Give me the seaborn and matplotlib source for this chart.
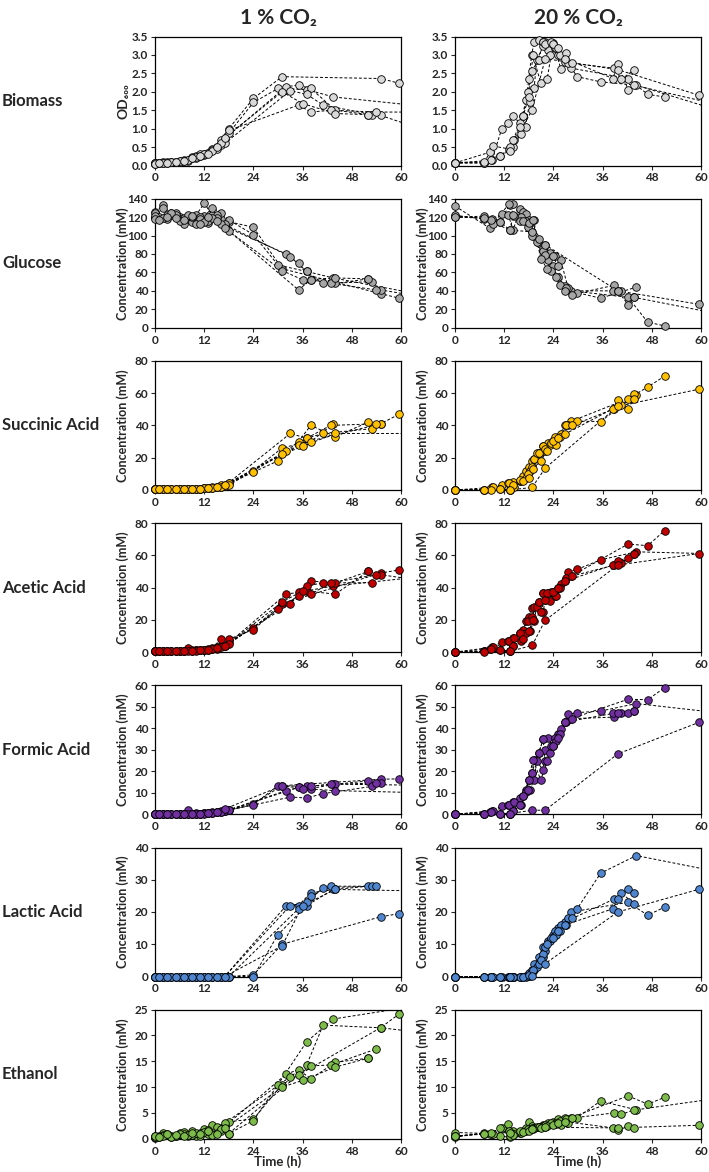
import numpy as np
import pandas as pd
import matplotlib
matplotlib.use('Agg')
import matplotlib.pyplot as plt
import seaborn as sns

nan = np.nan

# sampling times per replicate, 1 % CO2
t_lo_1 = [0, 2, 4, 6, 8, 10, 12, 14, 16, 18, 24, 31, 55, 59.6]
t_lo_2 = [0, 2, 4, 6, 8, 10, 12, 14, 16, 18, 24, 30, 37, 43.5, 66]
t_lo_3 = [0, 1, 3, 5, 7, 9, 11, 13, 15, 17, 32, 35, 38, 44, 52, 66]
t_lo_4 = [0, 1, 3, 5, 7, 9, 11, 13, 15, 17, 33, 37, 41, 53, 55, 66]
t_lo_5 = [0, 2, 4, 6, 8, 10, 12, 14, 16, 18, 35, 38, 43, 54, 66]
t_lo_6 = [0, 1, 3, 5, 7, 9, 11, 13, 15, 17, 31, 36, 44, 52, 66]

# sampling times per replicate, 20 % CO2
t_hi_1 = [0, 9, 11.4, 13, 14.2, 15.8, 16.6, 17.4, 18, 18.7, 19.3, 20.4, 21.5, 22.7, 23.8, 25.1, 26.8, 28.4, 42.2, 47, 51.1]
t_hi_2 = [0, 8.5, 11, 13.3, 14.2, 16, 17.2, 18.2, 19.3, 19.9, 21.5, 22, 23.1, 24.3, 25.8, 27.6, 29.8, 35.5, 44.2, 70]
t_hi_3 = [0, 7.1, 9.3, 13.1, 14.5, 15.8, 17.8, 18.7, 20.4, 21.5, 22, 23.4, 24.7, 25.5, 27, 28.6, 38.8, 40.6, 43.6]
t_hi_4 = [0, 7.1, 8.9, 11, 13.4, 14.2, 16.6, 18, 19, 20.9, 22.5, 23.9, 25, 26.9, 38.5, 39.7, 42.2, 43.6, 70]
t_hi_5 = [0, 7.1, 13.3, 18.8, 22, 39.7, 59.4]

times_lo = [t_lo_1, t_lo_2, t_lo_3, t_lo_4, t_lo_5, t_lo_6]
times_hi = [t_hi_1, t_hi_2, t_hi_3, t_hi_4, t_hi_5]

# ---- 1 % CO2 ----
biomass_lo = [
    [0.07, 0.10, 0.10, 0.12, 0.15, 0.25, 0.30, 0.45, 0.70, 1.00, 1.82, 2.41, 2.36, 2.23],
    [0.05, 0.08, 0.09, 0.10, 0.13, 0.20, 0.28, 0.42, 0.55, 0.88, 1.71, 2.09, 2.06, 1.86, 1.60],
    [0.07, 0.08, 0.10, 0.10, 0.14, 0.22, 0.30, 0.35, 0.50, 0.73, 2.14, 2.18, 2.09, 1.50, 1.38, nan],
    [0.06, 0.07, 0.08, 0.10, 0.12, 0.20, 0.27, 0.33, 0.45, 0.60, 2.03, 1.93, 1.64, 1.38, 1.36, 0.95],
    [0.06, 0.08, 0.10, 0.12, 0.15, 0.24, 0.30, 0.40, 0.60, 0.95, 1.64, 1.45, 1.50, 1.45, 1.45],
    [0.05, 0.06, 0.08, 0.10, 0.12, 0.20, 0.25, 0.30, 0.50, 0.75, 2.00, 1.68, 1.41, 1.38, nan],
]
glucose_lo = [
    [126, 133, 122, 120, 118, 122, 135, 122, 118, 115, 109, 64, 37, 32],
    [119, 130, 125, 118, 120, 117, 121, 130, 125, 117, 101, 68, 61, 54, 35],
    [120, 118, 122, 125, 119, 115, 120, 114, 122, 110, 80, 70, 52, 48, 53, nan],
    [124, 120, 118, 122, 112, 120, 118, 116, 119, 112, 77, 61, 48, 50, 41, 33],
    [121, 119, 124, 116, 122, 113, 115, 119, 113, 105, 41, 52, 48, 41, nan],
    [118, 117, 120, 119, 117, 121, 113, 120, 116, 108, 62, 52, 54, 53, nan],
]
succinic_lo = [
    [0.5, 0.5, 0.5, 0.5, 0.5, 0.5, 1, 1, 2, 4, 12, 26, 41, 47],
    [0.5, 0.5, 0.5, 0.5, 0.5, 0.8, 1, 1.5, 3, 4, 11, 18, 32, 41, nan],
    [0.5, 0.5, 0.5, 0.5, 0.5, 0.5, 0.8, 1, 1.5, 3, 24, 30, 40, 33, 42, nan],
    [0.3, 0.3, 0.5, 0.5, 0.5, 0.5, 0.8, 1, 1.5, 2.5, 35, 32, 35, 38, 41, nan],
    [0.5, 0.5, 0.5, 0.5, 0.5, 0.5, 1, 1.2, 2, 3, 28, 30, 40, 41, nan],
    [0.3, 0.3, 0.5, 0.5, 0.5, 0.5, 0.8, 1, 1.5, 3, 22, 27, 35, nan, 35],
]
acetic_lo = [
    [0.5, 0.5, 0.5, 0.8, 1, 1, 1.5, 2, 4, 6, 15, 30, 49, 51],
    [0.5, 0.5, 0.5, 0.5, 2.5, 1, 1.5, 2.5, 8, 8, 14, 27, 38, 41, 47],
    [0.5, 0.5, 0.5, 0.5, 0.5, 0.5, 1, 1.5, 2, 3.6, 36, 37, 44, 43, 50, nan],
    [0.5, 0.5, 0.5, 0.5, 0.5, 1, 1, 2, 3, 4, 30, 41, 43, 43, 48, 44],
    [0.5, 0.5, 0.5, 0.5, 0.5, 0.5, 1, 2, 3, 5, 35, 36, 43, 48, nan],
    [0.5, 0.5, 0.5, 0.5, 0.5, 0.5, 1, 1.5, 2.5, 3.5, 31, 38, 36, 50, nan],
]
formic_lo = [
    [0, 0, 0, 0, 0, 0, 0.5, 0.5, 1, 2, 5, 13.3, 16.3, 16.5],
    [0, 0, 0, 0, 2, 0.5, 0.5, 1, 1.5, 2, 4.5, 13.3, 13, 14, 13.5],
    [0, 0, 0, 0, 0, 0, 0.3, 0.5, 1, 1.5, 11, 12.5, 12, 14, 15.5, nan],
    [0, 0, 0, 0, 0, 0, 0.3, 0.5, 1, 1.5, 8, 7.6, 9.6, 13, 14.5, nan],
    [0, 0, 0, 0, 0, 0, 0.3, 0.5, 1, 2, 12.5, 13, 14, 14.5, nan],
    [0, 0, 0, 0, 0, 0, 0.3, 0.5, 1, 2.5, 13.3, 12, 11, nan, 10],
]
lactic_lo = [
    [0, 0, 0, 0, 0, 0, 0, 0, 0, 0, 0.5, 10, 18.5, 19.5],
    [0, 0, 0, 0, 0, 0, 0, 0, 0, 0, 0, 13, 22, 27, 26.5],
    [0, 0, 0, 0, 0, 0, 0, 0, 0, 0, 22, 22, 26, 27, 28, nan],
    [0, 0, 0, 0, 0, 0, 0, 0, 0, 0, 22, 23, 27.5, 28, nan, nan],
    [0, 0, 0, 0, 0, 0, 0, 0, 0, 0, 21, 25, 28, 28, nan],
    [0, 0, 0, 0, 0, 0, 0, 0, 0, 0, 9.5, 22, 27, nan, nan],
]
ethanol_lo = [
    [0.3, 1.2, 0.5, 1.0, 0.5, 1.0, 1.5, 2.7, 2.0, 3.3, 3.8, 10.5, 21.5, 24.2],
    [0.5, 0.8, 0.3, 1.2, 0.8, 0.5, 1.8, 1.0, 1.5, 1.0, 3.5, 10.5, 18.8, 23.2, 26.0],
    [0.2, 0.5, 1.0, 0.6, 1.3, 0.8, 1.2, 0.9, 2.2, 2.4, 12.5, 13.4, 11.6, 14.8, 15.6, nan],
    [0.4, 0.3, 0.8, 0.5, 1.0, 1.4, 0.6, 1.6, 1.2, 3.0, 12.0, 14.3, 22.0, nan, 21.5, 20.5],
    [0.3, 0.6, 0.4, 0.9, 0.7, 1.1, 1.3, 0.8, 1.8, 1.0, 12.4, 14.1, 14.3, 17.4, nan],
    [0.5, 0.4, 1.0, 0.8, 0.6, 1.2, 0.9, 1.4, 1.0, 2.0, 10.0, 11.3, 13.9, 15.6, nan],
]

# ---- 20 % CO2 ----
biomass_hi = [
    [0.07, 0.14, 1.0, 1.14, 1.34, 1.15, 1.34, 1.77, 2.36, 3.0, 3.36, 3.4, 3.36, 3.14, 3.32, 3.0, 2.82, 2.64, 2.36, 1.93, 1.86],
    [0.07, 0.36, 0.25, 0.41, 0.5, 0.86, 1.05, 1.73, 2.09, 2.86, 3.23, 3.36, 3.0, 3.18, 2.63, 2.77, 2.41, 2.27, 2.18, 1.3],
    [0.07, 0.07, 0.53, 0.45, 0.7, 1.05, 2.0, 2.56, 2.86, 3.36, 3.3, 3.36, 3.2, 3.0, 3.06, 2.77, 2.64, 2.34, 2.59],
    [0.07, 0.07, 0.14, 0.25, 0.5, 0.7, 1.34, 1.86, 3.0, 2.24, 2.36, 3.3, 3.2, 2.9, 2.36, 2.75, 2.06, 2.18, 1.5],
    [0.07, 0.1, 0.4, 1.5, 2.9, 2.6, 1.91],
]
glucose_hi = [
    [121, 118, 123, 122, 106, 129, 126, 123, 117, 104, 100, 92, 83, 74, 67, 55, 45, 40, 33, 6, 2],
    [132, 108, 115, 133, 134, 120, 116, 114, 117, 93, 87, 90, 81, 78, 73, 43, 38, 32, 44, nan],
    [120, 121, 113, 134, 121, 116, 109, 100, 96, 83, 79, 61, 55, 46, 43, 36, 46, 40, 33],
    [122, 118, 117, 115, 106, 122, 116, 114, 117, 75, 64, 78, 67, 40, 40, 40, 25, 33, 10],
    [120, 119, 106, 104, 90, 40, 25.5],
]
succinic_hi = [
    [0, 1.5, 3, 4, 5, 5.6, 8.7, 11.9, 14.3, 18, 19, 23, 27, 29, 30.5, 32.6, 40, 42.6, 56.5, 63.8, 70.5],
    [0, 0.4, 0.4, 0, 1.5, 5.6, 7.3, 12, 19, 23, 24, 24.3, 27.6, 32.6, 34.7, 40.3, 42.6, 42.4, 59, nan],
    [0, 0, 1.5, 4, 2, 6, 10, 14.3, 23, 27, 25.6, 29, 27.6, 33, 40, 40, 50.3, 52.4, 59.7],
    [0, 0, 0, 0.4, 0, 3, 5.6, 7.3, 13, 18, 24.3, 30.5, 32, 34.7, 50.3, 55.5, 50.3, 56.5, nan],
    [0, 0, 0, 1.5, 13.5, 51.8, 62.4],
]
acetic_hi = [
    [0, 3, 6.2, 6.6, 8.7, 11.8, 13.9, 19, 22, 27.4, 28, 31, 36.4, 36.8, 37.2, 39.9, 44, 47.2, 67, 66, 75.3],
    [0, 2, 1.5, 0.4, 3.5, 6.6, 11.8, 12.9, 19, 28, 24.7, 32.6, 31.6, 34.7, 42, 49.7, 51.3, 57.2, 62.2, 60.5],
    [0, 0.5, 3, 6.6, 8.7, 11.8, 19, 22, 31, 36.4, 32.6, 37.2, 34.7, 39.9, 46, 47.2, 53.9, 55.5, 60.7],
    [0, 0.5, 2, 1.5, 0.4, 3.5, 8, 12.9, 19.7, 24.7, 36.8, 37.2, 39.9, 44, 54, 56.6, 58.6, 60.7, nan],
    [0, 0.3, 0.4, 4.1, 19.7, 54, 61.1],
]
formic_hi = [
    [0, 1.6, 3.9, 4.2, 5.8, 7.5, 8.6, 11.3, 16, 19.2, 25.4, 28.5, 34.8, 35.3, 31.7, 37.5, 42.9, 44.5, 53.5, 53.3, 58.9],
    [0, 1.3, 0.3, 0.3, 1.6, 4.2, 10.2, 11.3, 16, 24.6, 20.7, 29.8, 28.5, 35.5, 39.7, 46.5, 47.3, 48, 51.5, 46],
    [0, 0.3, 1.6, 4.2, 5.8, 4.2, 11.3, 19.2, 28.5, 34.8, 24.6, 31.7, 34, 37.5, 42.9, 44.5, 45.2, 46.9, 48.2],
    [0, 0.3, 1.3, 0.3, 0.3, 1.6, 8.6, 16, 25.4, 16, 24.6, 31.7, 35.5, 42.9, 46.9, 46.9, 46.9, 48.2, nan],
    [0, 0.3, 0.3, 1.9, 1.9, 28.1, 42.7],
]
lactic_hi = [
    [0, 0, 0, 0, 0, 0, 0, 0.3, 1, 2, 4, 6, 9, 11, 13, 15, 17, 20, 23, 19, 21.5],
    [0, 0, 0, 0, 0, 0, 0, 0.3, 2, 3, 6, 8, 11, 14, 16, 18, 21, 32, 37.5, 31],
    [0, 0, 0, 0, 0, 0, 0.3, 1, 4, 7, 9, 12, 13, 14, 16, 18, 24, 26, 22.5],
    [0, 0, 0, 0, 0, 0, 0, 0.5, 2, 5, 10, 12, 14, 16, 21, 24, 27, 26, nan],
    [0, 0, 0, 0.3, 4, 20, 27],
]
ethanol_hi = [
    [0.5, 1, 2.1, 2.8, 1.5, 1.2, 1.5, 2, 3.3, 2.5, 2, 2.3, 2.6, 3, 3.2, 3.8, 4, 4.1, 8.3, 6.7, 8],
    [1.2, 1, 0.5, 0.3, 1, 1.2, 1.5, 1.8, 2, 2.2, 2.5, 2.2, 2.8, 3, 2.7, 3, 4.1, 7.3, 5.6, 8.5],
    [0.3, 1.1, 1, 1.5, 1, 1.4, 1.8, 2, 2.3, 2.5, 2.7, 3, 2.8, 3.5, 3.8, 4, 5, 4.7, 5.6],
    [0.5, 1, 1.2, 2, 0.5, 0.8, 1.3, 1.5, 1.8, 2, 2.4, 2.6, 3, 3.3, 2.1, 1.6, 2.4, 2, nan],
    [0.5, 1, 1.2, 1.8, 2.2, 2.1, 2.6],
]

row_names = ['Biomass', 'Glucose', 'Succinic Acid', 'Acetic Acid', 'Formic Acid', 'Lactic Acid', 'Ethanol']
data_lo = [biomass_lo, glucose_lo, succinic_lo, acetic_lo, formic_lo, lactic_lo, ethanol_lo]
data_hi = [biomass_hi, glucose_hi, succinic_hi, acetic_hi, formic_hi, lactic_hi, ethanol_hi]
colors = ['#d9d9d9', '#a6a6a6', '#ffc000', '#c00000', '#7030a0', '#4f86cf', '#7dbb4a']
y_max = [3.5, 140, 80, 80, 60, 40, 25]
y_step = [0.5, 20, 20, 20, 10, 10, 5]
y_labels = ['OD₆₀₀'] + ['Concentration (mM)'] * 6
col_titles = ['1 % CO₂', '20 % CO₂']

sns.set_style('ticks')
plt.rcParams['font.family'] = ['Lato', 'DejaVu Sans']
plt.rcParams['font.weight'] = 'bold'
plt.rcParams['axes.labelweight'] = 'bold'

W, H = 709, 1172
fig = plt.figure(figsize=(W / 100, H / 100), dpi=100)

col_left = [155, 455]
ax_w = 246
ax_h = 129
row_top0 = 36.5
row_gap = 162.2


def to_frame(times, values):
    parts = []
    for i, (t, v) in enumerate(zip(times, values)):
        d = pd.DataFrame({'t': t, 'v': v})
        d['rep'] = i
        parts.append(d)
    return pd.concat(parts, ignore_index=True).dropna()


for r in range(7):
    top = row_top0 + r * row_gap
    for c, (times, data) in enumerate([(times_lo, data_lo[r]), (times_hi, data_hi[r])]):
        ax = fig.add_axes([col_left[c] / W, 1 - (top + ax_h) / H, ax_w / W, ax_h / H])
        df = to_frame(times, data)
        sns.lineplot(data=df, x='t', y='v', units='rep', estimator=None, sort=False,
                     color='black', lw=0.7, linestyle=(0, (3, 2)), ax=ax, legend=False)
        sns.scatterplot(data=df[df['t'] <= 60], x='t', y='v', color=colors[r],
                        edgecolor='black', linewidth=0.6, s=30, ax=ax, legend=False,
                        clip_on=False, zorder=3)
        ax.set_xlim(0, 60)
        ax.set_ylim(0, y_max[r])
        ax.set_xticks(np.arange(0, 61, 12))
        ax.set_yticks(np.arange(0, y_max[r] + 1e-9, y_step[r]))
        if r == 0:
            ax.set_yticklabels([f'{v:.1f}' for v in np.arange(0, 3.51, 0.5)])
        for s in ax.spines.values():
            s.set_visible(True)
            s.set_linewidth(0.9)
            s.set_color('black')
        ax.tick_params(direction='out', length=3, width=0.8, labelsize=8.5, pad=2)
        if r == 0 and c == 1:
            ax.set_ylabel('')
        else:
            ax.set_ylabel(y_labels[r], fontsize=10 if r == 0 else 9)
        ax.yaxis.set_label_coords(-0.105, 0.5)
        if r == 6:
            ax.set_xlabel('Time (h)', fontsize=9.5)
            ax.xaxis.set_label_coords(0.5, -0.125)
        else:
            ax.set_xlabel('')
    fig.text(2 / W, 1 - (top + ax_h / 2) / H, row_names[r], fontsize=12,
             fontweight='bold', ha='left', va='center')

for c in range(2):
    fig.text((col_left[c] + ax_w / 2) / W, 1 - 18 / H, col_titles[c], fontsize=15,
             fontweight='bold', ha='center', va='center')

fig.savefig('out.png', dpi=100)
